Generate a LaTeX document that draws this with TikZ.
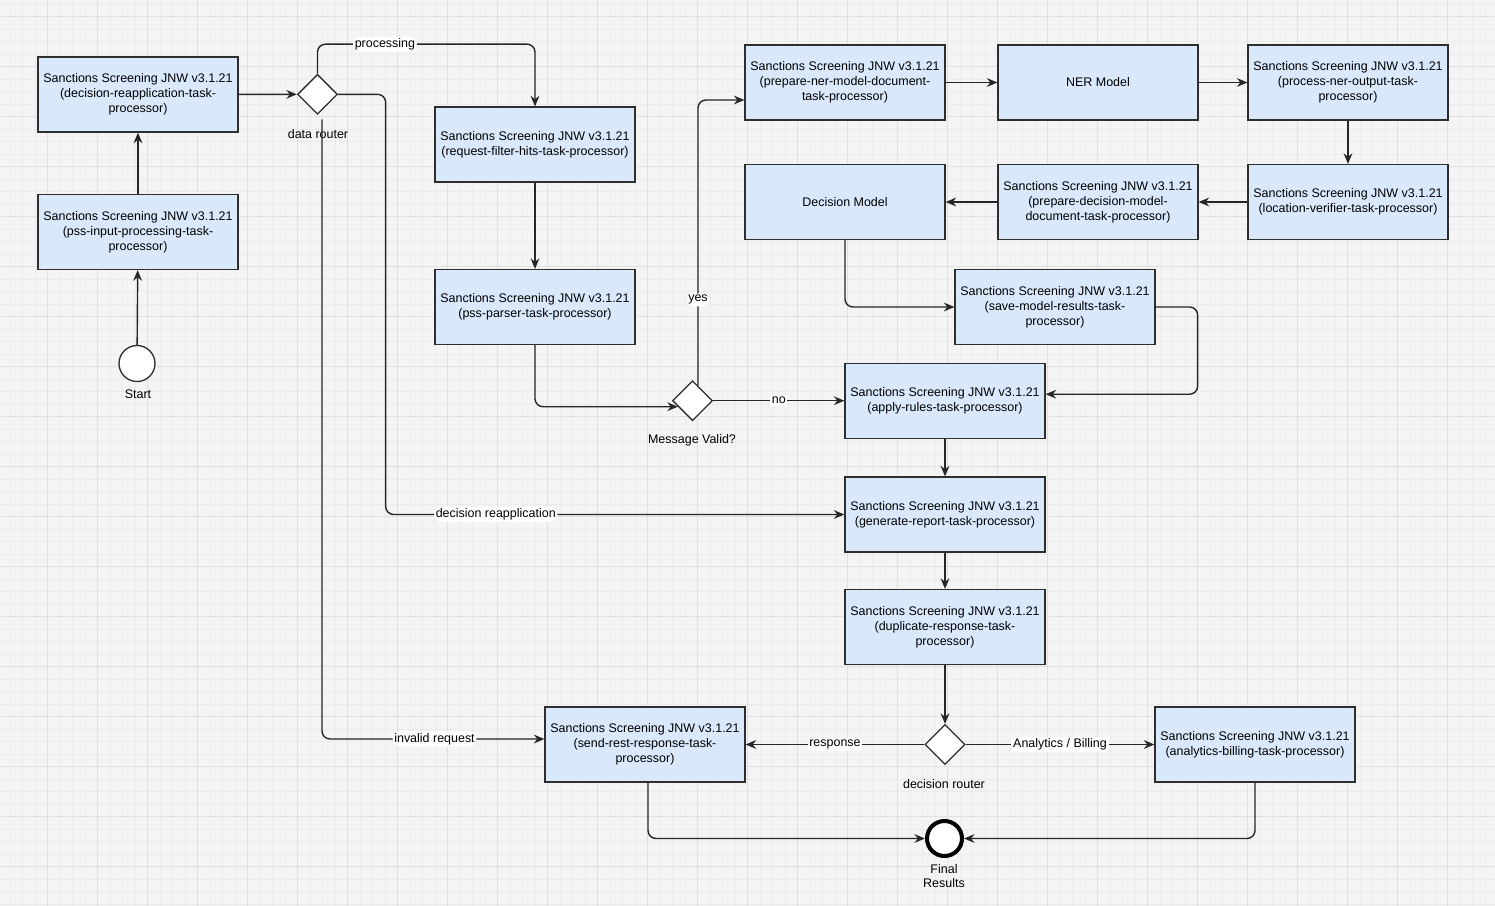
\documentclass[tikz,border=0pt]{standalone}
\usepackage{fontspec}
\setmainfont{Liberation Sans}
\usetikzlibrary{arrows.meta,shapes.geometric,calc}
\definecolor{boxfill}{HTML}{DAE8FC}
\definecolor{boxline}{HTML}{2E2E2E}
\definecolor{bgcol}{HTML}{F4F4F4}
\definecolor{gridminor}{HTML}{ECECEC}
\definecolor{gridmajor}{HTML}{E0E0E0}
\tikzset{
  fnt/.style={font=\fontsize{7.1}{8.5}\selectfont},
  box/.style={fnt, draw=boxline, fill=boxfill, line width=0.75pt, minimum width=4cm, minimum height=1.5cm, align=center, inner sep=1pt},
  gate/.style={diamond, draw=boxline, fill=white, line width=0.75pt, minimum width=0.8cm, minimum height=0.8cm, inner sep=0pt, aspect=1},
  startev/.style={circle, draw=boxline, fill=white, line width=0.75pt, minimum size=0.72cm, inner sep=0pt},
  endev/.style={circle, draw=black, fill=white, line width=2.3pt, minimum size=0.7cm, inner sep=0pt},
  txt/.style={fnt, align=center, inner sep=0pt},
  lbl/.style={fnt, fill=white, inner sep=1pt},
  arr/.style={draw=black!85, line width=0.8pt, -{Stealth[length=6pt,width=5pt,inset=2pt]}},
  rc/.style={rounded corners=0.16cm},
  gminor/.style={draw=gridminor, line width=0.4pt},
  gmajor/.style={draw=gridmajor, line width=0.5pt}
}
\begin{document}
\begin{tikzpicture}[x=0.02cm,y=-0.02cm]
\useasboundingbox (0,0) rectangle (1495,906);
\fill[bgcol] (0,0) rectangle (1495,906);
\foreach \i in {0,...,119} {\pgfmathsetmacro\xx{10+12.5*\i}\draw[gminor] (\xx,0) -- (\xx,906);}
\foreach \i in {0,...,72} {\pgfmathsetmacro\yy{4+12.5*\i}\draw[gminor] (0,\yy) -- (1495,\yy);}
\foreach \i in {0,...,30} {\pgfmathsetmacro\xx{-2.7+50*\i}\draw[gmajor] (\xx,0) -- (\xx,906);}
\foreach \i in {0,...,18} {\pgfmathsetmacro\yy{16.3+50*\i}\draw[gmajor] (0,\yy) -- (1495,\yy);}

% nodes
\node[box] (b1) at (138,94.5) {Sanctions Screening JNW v3.1.21\\(decision-reapplication-task-\\processor)};
\node[box] (b2) at (138,232) {Sanctions Screening JNW v3.1.21\\(pss-input-processing-task-\\processor)};
\node[startev] (start) at (137,363.5) {};
\node[txt] (lstart) at (138,394) {Start};
\node[gate] (dr) at (317.5,94.3) {};
\node[txt] (ldr) at (318,134) {data router};
\node[box] (rf) at (535,144.5) {Sanctions Screening JNW v3.1.21\\(request-filter-hits-task-processor)};
\node[box] (pp) at (535,307) {Sanctions Screening JNW v3.1.21\\(pss-parser-task-processor)};
\node[gate] (mv) at (692.5,400.7) {};
\node[txt] (lmv) at (692,440) {Message Valid?};
\node[box] (ne) at (845,82.5) {Sanctions Screening JNW v3.1.21\\(prepare-ner-model-document-\\task-processor)};
\node[box] (nm) at (1098,82.5) {NER Model};
\node[box] (po) at (1348,82.5) {Sanctions Screening JNW v3.1.21\\(process-ner-output-task-\\processor)};
\node[box] (lv) at (1348,202) {Sanctions Screening JNW v3.1.21\\(location-verifier-task-processor)};
\node[box] (pd) at (1098,202) {Sanctions Screening JNW v3.1.21\\(prepare-decision-model-\\document-task-processor)};
\node[box] (dm) at (845,202) {Decision Model};
\node[box] (sm) at (1055,307) {Sanctions Screening JNW v3.1.21\\(save-model-results-task-\\processor)};
\node[box] (ap) at (945,400.7) {Sanctions Screening JNW v3.1.21\\(apply-rules-task-processor)};
\node[box] (gr) at (945,514.5) {Sanctions Screening JNW v3.1.21\\(generate-report-task-processor)};
\node[box] (du) at (945,627) {Sanctions Screening JNW v3.1.21\\(duplicate-response-task-\\processor)};
\node[gate] (drt) at (945,744.5) {};
\node[txt] (ldrt) at (944,784) {decision router};
\node[box] (sr) at (645,744.5) {Sanctions Screening JNW v3.1.21\\(send-rest-response-task-\\processor)};
\node[box] (ab) at (1255,744.5) {Sanctions Screening JNW v3.1.21\\(analytics-billing-task-processor)};
\node[endev] (fin) at (944.5,838.5) {};
\node[txt] (lfin) at (944,876) {Final\\Results};

% connectors
\draw[arr] (start) -- (b2);
\draw[arr] (b2) -- (b1);
\draw[arr] (b1) -- (dr);
\draw[arr,rc] (dr.north) -- ++(0,-29.5) -| node[lbl,pos=0.155]{processing} (rf.north);
\draw[arr,rc] (dr.east) -- ++(47.5,0) |- node[lbl,pos=0.62]{decision reapplication} (gr.west);
\draw[arr,rc] ([xshift=0.09cm,yshift=-0.09cm]dr.south) |- node[lbl,pos=0.753]{invalid request} ([yshift=0.11cm]sr.west);
\draw[arr] (rf) -- (pp);
\draw[arr,rc] (pp.south) |- ($(mv.west)+(6,6)$);
\draw[arr,rc] ($(mv.north)+(5.5,5.5)$) |- node[lbl,pos=0.15]{yes} ([yshift=-0.35cm]ne.west);
\draw[arr] (mv) -- node[lbl]{no} (ap);
\draw[arr] (ne) -- (nm);
\draw[arr] (nm) -- (po);
\draw[arr] (po) -- (lv);
\draw[arr] (lv) -- (pd);
\draw[arr] (pd) -- (dm);
\draw[arr,rc] (dm.south) |- (sm.west);
\draw[arr,rc] (sm.east) -- ++(42,0) |- ([yshift=0.13cm]ap.east);
\draw[arr] (ap) -- (gr);
\draw[arr] (gr) -- (du);
\draw[arr] (du) -- (drt);
\draw[arr] (drt) -- node[lbl]{response} (sr);
\draw[arr] (drt) -- node[lbl]{Analytics / Billing} (ab);
\draw[arr,rc] ([xshift=0.06cm]sr.south) |- (fin.west);
\draw[arr,rc] (ab.south) |- (fin.east);
\end{tikzpicture}
\end{document}
